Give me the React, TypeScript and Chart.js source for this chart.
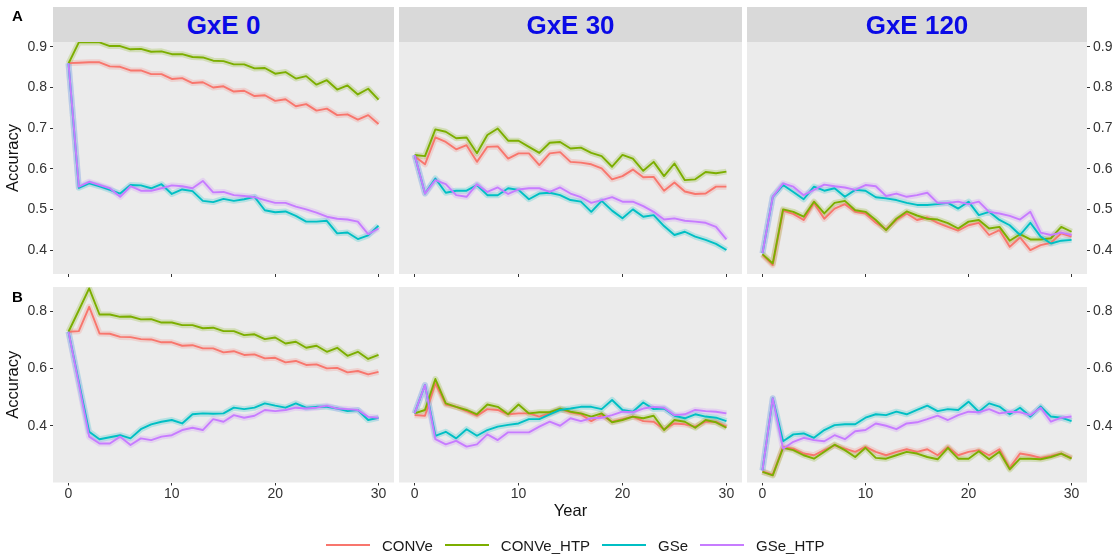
import React, { useEffect, useRef } from 'react';
import { Chart, registerables } from 'chart.js';

Chart.register(...registerables);

const FONT = "'Liberation Sans', Arial, Helvetica, sans-serif";
Chart.defaults.font.family = FONT;

// ---- data -------------------------------------------------------------
const YEARS = [0, 1, 2, 3, 4, 5, 6, 7, 8, 9, 10, 11, 12, 13, 14, 15, 16, 17, 18, 19, 20, 21, 22, 23, 24, 25, 26, 27, 28, 29, 30];
const SERIES_NAMES = ['CONVe', 'CONVe_HTP', 'GSe', 'GSe_HTP'];
const STRIP_LABELS = ['GxE 0', 'GxE 30', 'GxE 120'];
const ROW_LABELS = ['A', 'B'];
const ROW_A_TICKS = [0.4, 0.5, 0.6, 0.7, 0.8, 0.9];
const ROW_B_TICKS = [0.4, 0.6, 0.8];
const YEAR_TICKS = [0, 10, 20, 30];

// Row A, GxE 0
const A_GxE0_CONVe = [0.860, 0.861, 0.862, 0.862, 0.852, 0.851, 0.842, 0.842, 0.833, 0.833, 0.821, 0.823, 0.811, 0.813, 0.800, 0.803, 0.790, 0.792, 0.779, 0.781, 0.767, 0.771, 0.754, 0.759, 0.743, 0.748, 0.732, 0.734, 0.721, 0.732, 0.710];
const A_GxE0_CONVe_HTP = [0.859, 0.911, 0.911, 0.911, 0.902, 0.902, 0.894, 0.895, 0.888, 0.889, 0.882, 0.882, 0.875, 0.874, 0.866, 0.865, 0.857, 0.857, 0.847, 0.848, 0.834, 0.838, 0.822, 0.828, 0.807, 0.818, 0.795, 0.805, 0.783, 0.797, 0.770];
const A_GxE0_GSe = [0.860, 0.553, 0.564, 0.557, 0.548, 0.539, 0.560, 0.559, 0.552, 0.562, 0.538, 0.549, 0.545, 0.521, 0.518, 0.526, 0.521, 0.525, 0.531, 0.498, 0.493, 0.495, 0.484, 0.470, 0.470, 0.472, 0.441, 0.443, 0.427, 0.436, 0.460];
const A_GxE0_GSe_HTP = [0.860, 0.556, 0.568, 0.560, 0.552, 0.531, 0.557, 0.546, 0.546, 0.552, 0.559, 0.557, 0.552, 0.570, 0.542, 0.543, 0.535, 0.533, 0.530, 0.523, 0.516, 0.516, 0.507, 0.500, 0.492, 0.482, 0.477, 0.475, 0.470, 0.439, 0.453];

// Row A, GxE 30
const A_GxE30_CONVe = [0.631, 0.611, 0.677, 0.666, 0.648, 0.658, 0.617, 0.654, 0.655, 0.625, 0.638, 0.638, 0.609, 0.638, 0.641, 0.617, 0.615, 0.611, 0.601, 0.574, 0.582, 0.598, 0.579, 0.580, 0.546, 0.566, 0.544, 0.538, 0.539, 0.556, 0.556];
const A_GxE30_CONVe_HTP = [0.634, 0.631, 0.697, 0.691, 0.675, 0.677, 0.638, 0.683, 0.699, 0.669, 0.669, 0.654, 0.639, 0.664, 0.666, 0.650, 0.652, 0.639, 0.631, 0.605, 0.634, 0.625, 0.595, 0.617, 0.582, 0.613, 0.572, 0.574, 0.592, 0.589, 0.593];
const A_GxE30_GSe = [0.634, 0.539, 0.576, 0.541, 0.546, 0.546, 0.560, 0.535, 0.535, 0.552, 0.548, 0.525, 0.539, 0.541, 0.535, 0.523, 0.519, 0.494, 0.521, 0.497, 0.478, 0.500, 0.482, 0.486, 0.459, 0.437, 0.445, 0.433, 0.425, 0.415, 0.400];
const A_GxE30_GSe_HTP = [0.634, 0.539, 0.572, 0.562, 0.535, 0.531, 0.562, 0.543, 0.554, 0.538, 0.549, 0.552, 0.552, 0.543, 0.554, 0.539, 0.530, 0.516, 0.523, 0.530, 0.519, 0.519, 0.508, 0.494, 0.475, 0.478, 0.472, 0.470, 0.467, 0.457, 0.426];

// Row A, GxE 120
const A_GxE120_CONVe = [0.388, 0.363, 0.497, 0.489, 0.474, 0.516, 0.477, 0.502, 0.513, 0.494, 0.490, 0.467, 0.451, 0.474, 0.490, 0.474, 0.480, 0.467, 0.457, 0.448, 0.461, 0.467, 0.437, 0.449, 0.408, 0.431, 0.400, 0.412, 0.418, 0.441, 0.433];
const A_GxE120_CONVe_HTP = [0.390, 0.367, 0.500, 0.494, 0.482, 0.519, 0.490, 0.516, 0.521, 0.498, 0.494, 0.474, 0.449, 0.477, 0.495, 0.485, 0.477, 0.475, 0.466, 0.453, 0.470, 0.474, 0.453, 0.457, 0.423, 0.439, 0.426, 0.426, 0.429, 0.457, 0.445];
const A_GxE120_GSe = [0.392, 0.531, 0.560, 0.543, 0.525, 0.556, 0.546, 0.552, 0.531, 0.548, 0.546, 0.530, 0.527, 0.523, 0.516, 0.511, 0.511, 0.513, 0.516, 0.502, 0.519, 0.486, 0.494, 0.474, 0.461, 0.437, 0.467, 0.433, 0.416, 0.423, 0.425];
const A_GxE120_GSe_HTP = [0.392, 0.531, 0.564, 0.556, 0.535, 0.548, 0.561, 0.557, 0.554, 0.548, 0.560, 0.557, 0.533, 0.539, 0.531, 0.535, 0.541, 0.516, 0.516, 0.519, 0.513, 0.519, 0.494, 0.490, 0.484, 0.475, 0.494, 0.443, 0.437, 0.443, 0.437];

// Row B, GxE 0
const B_GxE0_CONVe = [0.728, 0.730, 0.815, 0.722, 0.721, 0.710, 0.709, 0.702, 0.701, 0.691, 0.691, 0.679, 0.681, 0.670, 0.670, 0.656, 0.660, 0.647, 0.649, 0.635, 0.637, 0.621, 0.626, 0.612, 0.614, 0.600, 0.602, 0.586, 0.591, 0.579, 0.588];
const B_GxE0_CONVe_HTP = [0.728, 0.803, 0.879, 0.788, 0.788, 0.780, 0.781, 0.771, 0.772, 0.760, 0.760, 0.751, 0.751, 0.740, 0.742, 0.730, 0.730, 0.716, 0.719, 0.702, 0.708, 0.687, 0.693, 0.672, 0.679, 0.658, 0.672, 0.644, 0.658, 0.633, 0.647];
const B_GxE0_GSe = [0.728, 0.553, 0.379, 0.353, 0.360, 0.367, 0.356, 0.388, 0.405, 0.414, 0.420, 0.408, 0.440, 0.443, 0.442, 0.443, 0.463, 0.458, 0.463, 0.478, 0.470, 0.463, 0.478, 0.463, 0.466, 0.466, 0.460, 0.451, 0.455, 0.420, 0.428];
const B_GxE0_GSe_HTP = [0.728, 0.545, 0.362, 0.338, 0.338, 0.362, 0.333, 0.356, 0.350, 0.362, 0.367, 0.385, 0.393, 0.385, 0.423, 0.414, 0.437, 0.428, 0.435, 0.455, 0.451, 0.455, 0.463, 0.460, 0.463, 0.470, 0.460, 0.458, 0.455, 0.431, 0.428];

// Row B, GxE 30
const B_GxE30_CONVe = [0.437, 0.435, 0.548, 0.474, 0.466, 0.451, 0.435, 0.458, 0.455, 0.440, 0.443, 0.443, 0.432, 0.443, 0.458, 0.447, 0.440, 0.416, 0.437, 0.414, 0.423, 0.432, 0.416, 0.414, 0.388, 0.408, 0.405, 0.397, 0.414, 0.414, 0.397];
const B_GxE30_CONVe_HTP = [0.443, 0.455, 0.563, 0.478, 0.466, 0.455, 0.440, 0.474, 0.466, 0.440, 0.474, 0.443, 0.447, 0.447, 0.460, 0.449, 0.443, 0.432, 0.443, 0.412, 0.420, 0.432, 0.426, 0.435, 0.385, 0.420, 0.414, 0.393, 0.420, 0.412, 0.393];
const B_GxE30_GSe = [0.443, 0.542, 0.365, 0.379, 0.356, 0.388, 0.365, 0.385, 0.397, 0.403, 0.408, 0.423, 0.423, 0.440, 0.455, 0.460, 0.466, 0.466, 0.458, 0.490, 0.455, 0.449, 0.481, 0.458, 0.460, 0.435, 0.426, 0.440, 0.432, 0.428, 0.416];
const B_GxE30_GSe_HTP = [0.443, 0.542, 0.353, 0.335, 0.347, 0.327, 0.335, 0.370, 0.350, 0.377, 0.377, 0.377, 0.397, 0.414, 0.400, 0.426, 0.416, 0.426, 0.428, 0.437, 0.449, 0.447, 0.460, 0.466, 0.463, 0.437, 0.440, 0.455, 0.451, 0.449, 0.443];

// Row B, GxE 120
const B_GxE120_CONVe = [0.241, 0.229, 0.326, 0.320, 0.303, 0.297, 0.315, 0.332, 0.320, 0.309, 0.326, 0.309, 0.297, 0.309, 0.318, 0.309, 0.318, 0.297, 0.326, 0.297, 0.309, 0.315, 0.297, 0.318, 0.253, 0.303, 0.297, 0.288, 0.295, 0.303, 0.288];
const B_GxE120_CONVe_HTP = [0.239, 0.227, 0.323, 0.315, 0.297, 0.285, 0.309, 0.334, 0.315, 0.291, 0.323, 0.288, 0.285, 0.297, 0.309, 0.303, 0.291, 0.283, 0.323, 0.285, 0.285, 0.311, 0.283, 0.309, 0.248, 0.285, 0.285, 0.283, 0.291, 0.303, 0.285];
const B_GxE120_GSe = [0.244, 0.496, 0.346, 0.370, 0.373, 0.358, 0.385, 0.402, 0.405, 0.405, 0.428, 0.440, 0.437, 0.449, 0.440, 0.455, 0.470, 0.451, 0.458, 0.455, 0.484, 0.449, 0.478, 0.467, 0.440, 0.463, 0.432, 0.467, 0.432, 0.428, 0.416];
const B_GxE120_GSe_HTP = [0.244, 0.496, 0.320, 0.344, 0.358, 0.350, 0.346, 0.367, 0.353, 0.381, 0.385, 0.408, 0.400, 0.388, 0.408, 0.412, 0.423, 0.435, 0.420, 0.437, 0.449, 0.447, 0.458, 0.443, 0.449, 0.447, 0.437, 0.463, 0.414, 0.428, 0.432];

// ---- layout & style ---------------------------------------------------
const W = 1119;
const H = 558;
const SERIES_COLORS = ['#F8766D', '#7CAE00', '#00BFC4', '#C77CFF'];
const SERIES_BANDS = ['rgba(248,118,109,0.22)', 'rgba(124,174,0,0.22)', 'rgba(0,191,196,0.22)', 'rgba(199,124,255,0.22)'];
const COL_LEFT = [53, 399, 747];
const COL_RIGHT = [394, 742, 1087];
const ROW_TOP = [42, 287];
const ROW_BOTTOM = [274, 482.5];
const ROW_Y_RANGE = [
  { min: 0.341, max: 0.912 },
  { min: 0.202, max: 0.884 },
];
const AXIS_COLOR = '#333333';

type PanelSpec = { row: number; col: number; series: number[][] };

const PANELS: PanelSpec[] = [
  { row: 0, col: 0, series: [A_GxE0_CONVe, A_GxE0_CONVe_HTP, A_GxE0_GSe, A_GxE0_GSe_HTP] },
  { row: 0, col: 1, series: [A_GxE30_CONVe, A_GxE30_CONVe_HTP, A_GxE30_GSe, A_GxE30_GSe_HTP] },
  { row: 0, col: 2, series: [A_GxE120_CONVe, A_GxE120_CONVe_HTP, A_GxE120_GSe, A_GxE120_GSe_HTP] },
  { row: 1, col: 0, series: [B_GxE0_CONVe, B_GxE0_CONVe_HTP, B_GxE0_GSe, B_GxE0_GSe_HTP] },
  { row: 1, col: 1, series: [B_GxE30_CONVe, B_GxE30_CONVe_HTP, B_GxE30_GSe, B_GxE30_GSe_HTP] },
  { row: 1, col: 2, series: [B_GxE120_CONVe, B_GxE120_CONVe_HTP, B_GxE120_GSe, B_GxE120_GSe_HTP] },
];

// grey panel background behind the lines
const panelBackground = {
  id: 'panelBackground',
  beforeDraw(chart: any) {
    const { ctx, chartArea: a } = chart;
    ctx.save();
    ctx.fillStyle = '#EBEBEB';
    ctx.fillRect(a.left, a.top, a.right - a.left, a.bottom - a.top);
    ctx.restore();
  },
};

function zeroPadding(scale: any) {
  scale.paddingLeft = 0;
  scale.paddingRight = 0;
  scale.paddingTop = 0;
  scale.paddingBottom = 0;
}

function FacetPanel({ spec }: { spec: PanelSpec }) {
  const ref = useRef<HTMLCanvasElement>(null);

  useEffect(() => {
    const canvas = ref.current;
    if (!canvas) return;
    const { row, col, series } = spec;
    const left = COL_LEFT[col];
    const right = COL_RIGHT[col];
    const top = ROW_TOP[row];
    const bottom = ROW_BOTTOM[row];

    const hasYAxis = col !== 1;
    const yAxisWidth = col === 0 ? 53 : col === 2 ? 32 : 0;
    const showXLabels = row === 1;
    const showYearTitle = row === 1 && col === 1;
    const xAxisHeight = row === 0 ? 4 : showYearTitle ? 43 : 22;

    const padding = {
      left: col === 0 ? left - yAxisWidth : left,
      right: col === 2 ? W - right - yAxisWidth : W - right,
      top,
      bottom: H - bottom - xAxisHeight,
    };

    const datasets: any[] = [];
    series.forEach((values, i) => {
      const pts = YEARS.map((yr, k) => ({ x: yr, y: values[k] }));
      datasets.push({
        label: SERIES_NAMES[i] + ' band',
        data: pts,
        borderColor: SERIES_BANDS[i],
        borderWidth: 6,
        pointRadius: 0,
        tension: 0,
        borderJoinStyle: 'round',
        order: 20 - i,
      });
      datasets.push({
        label: SERIES_NAMES[i],
        data: pts,
        borderColor: SERIES_COLORS[i],
        borderWidth: 1.9,
        pointRadius: 0,
        tension: 0,
        borderJoinStyle: 'round',
        order: 4 - i,
      });
    });

    const yTicks = row === 0 ? ROW_A_TICKS : ROW_B_TICKS;

    const chart = new Chart(canvas, {
      type: 'line',
      data: { datasets },
      plugins: [panelBackground],
      options: {
        animation: false,
        responsive: false,
        devicePixelRatio: 1,
        events: [],
        layout: { padding },
        plugins: {
          legend: { display: false },
          tooltip: { enabled: false },
        },
        scales: {
          x: {
            type: 'linear',
            position: 'bottom',
            min: -1.5,
            max: 31.5,
            afterBuildTicks: (scale: any) => {
              scale.ticks = YEAR_TICKS.map((v) => ({ value: v }));
            },
            afterFit: (scale: any) => {
              scale.height = xAxisHeight;
              zeroPadding(scale);
            },
            ticks: {
              display: showXLabels,
              color: AXIS_COLOR,
              font: { size: 14 },
              padding: 0,
              maxRotation: 0,
              callback: (v: any) => String(v),
            },
            grid: {
              display: true,
              drawOnChartArea: false,
              drawTicks: true,
              tickLength: 3,
              color: AXIS_COLOR,
              lineWidth: 1,
            },
            border: { display: false },
            title: {
              display: showYearTitle,
              text: 'Year',
              color: '#111111',
              font: { size: 16.5 },
              padding: { top: 0, bottom: 4 },
            },
          },
          y: {
            type: 'linear',
            display: hasYAxis,
            position: col === 2 ? 'right' : 'left',
            min: ROW_Y_RANGE[row].min,
            max: ROW_Y_RANGE[row].max,
            afterBuildTicks: (scale: any) => {
              scale.ticks = yTicks.map((v) => ({ value: v }));
            },
            afterFit: (scale: any) => {
              scale.width = yAxisWidth;
              zeroPadding(scale);
            },
            ticks: {
              color: AXIS_COLOR,
              font: { size: 14 },
              padding: 3,
              callback: (v: any) => Number(v).toFixed(1),
            },
            grid: {
              display: true,
              drawOnChartArea: false,
              drawTicks: true,
              tickLength: 3,
              color: AXIS_COLOR,
              lineWidth: 1,
            },
            border: { display: false },
            title: {
              display: col === 0,
              text: 'Accuracy',
              color: '#111111',
              font: { size: 16.5 },
              padding: { top: 4, bottom: 0 },
            },
          },
        },
      } as any,
    });

    return () => chart.destroy();
  }, [spec]);

  return (
    <canvas
      ref={ref}
      width={W}
      height={H}
      style={{ position: 'absolute', left: 0, top: 0, width: W, height: H, pointerEvents: 'none' }}
    />
  );
}

export default function App() {
  return (
    <div
      style={{
        position: 'absolute',
        left: 0,
        top: 0,
        width: W,
        height: H,
        background: '#ffffff',
        overflow: 'hidden',
        fontFamily: FONT,
      }}
    >
      {PANELS.map((p) => (
        <FacetPanel key={`${p.row}-${p.col}`} spec={p} />
      ))}

      {STRIP_LABELS.map((label, c) => (
        <div
          key={label}
          style={{
            position: 'absolute',
            left: COL_LEFT[c],
            width: COL_RIGHT[c] - COL_LEFT[c],
            top: 7,
            height: 35,
            background: '#D9D9D9',
            color: '#0A0AE6',
            fontWeight: 'bold',
            fontSize: 26,
            lineHeight: '36px',
            textAlign: 'center',
          }}
        >
          {label}
        </div>
      ))}

      {ROW_LABELS.map((label, r) => (
        <div
          key={label}
          style={{
            position: 'absolute',
            left: 12,
            top: r === 0 ? 7 : 288,
            fontWeight: 'bold',
            fontSize: 15,
            lineHeight: '18px',
            color: '#000000',
          }}
        >
          {label}
        </div>
      ))}

      <div
        style={{
          position: 'absolute',
          left: 326,
          top: 535,
          height: 20,
          display: 'flex',
          alignItems: 'center',
          fontSize: 15,
          color: '#1a1a1a',
          whiteSpace: 'nowrap',
        }}
      >
        {SERIES_NAMES.map((name, i) => (
          <div key={name} style={{ display: 'flex', alignItems: 'center', marginRight: 12 }}>
            <div style={{ width: 44, height: 2, background: SERIES_COLORS[i], marginRight: 12 }} />
            <span>{name}</span>
          </div>
        ))}
      </div>
    </div>
  );
}
